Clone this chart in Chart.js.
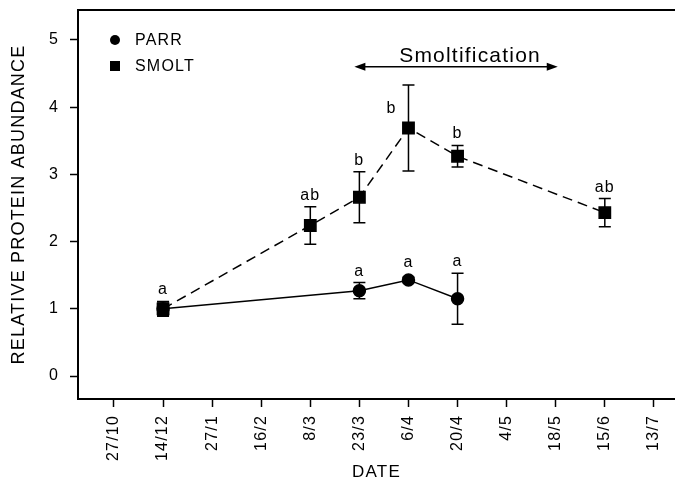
<!DOCTYPE html>
<html>
<head>
<meta charset="utf-8">
<title>Relative protein abundance</title>
<script src="https://cdn.jsdelivr.net/npm/chart.js@4.4.0/dist/chart.umd.min.js"></script>
<style>
  body { margin: 0; background: #fff; }
  #grafico { display: block; }
</style>
</head>
<body>
<canvas id="grafico" width="675" height="483"></canvas>
<script>
// fechas de muestreo (eje X, espaciadas igual)
const fechas = ['27/10', '14/12', '27/1', '16/2', '8/3', '23/3', '6/4', '20/4', '4/5', '18/5', '15/6', '13/7'];
const marcasY = [0, 1, 2, 3, 4, 5];

const parrFechas = ['14/12', '23/3', '6/4', '20/4'];
const parrMedia = [1.0, 1.27, 1.43, 1.15];
const parrError = [0.1, 0.12, 0.04, 0.38];
const parrLetras = ['', 'a', 'a', 'a'];

const smoltFechas = ['14/12', '8/3', '23/3', '6/4', '20/4', '15/6'];
const smoltMedia = [1.0, 2.24, 2.66, 3.69, 3.27, 2.43];
const smoltError = [0.11, 0.28, 0.38, 0.64, 0.16, 0.21];
const smoltLetras = ['a', 'ab', 'b', 'b', 'b', 'ab'];

const periodoSmolt = ['23/3', '18/5'];

document.addEventListener('DOMContentLoaded', function() {
    inicializarGrafica();
});

function puntos(fs, valores) {
    return fs.map((f, i) => ({ x: fechas.indexOf(f), y: valores[i] }));
}

// barras de error, letras, flecha y leyenda
const extras = {
    id: 'extras',
    beforeDraw(chart) {
        chart.ctx.letterSpacing = '1.2px';
    },
    beforeDatasetsDraw(chart) {
        const ctx = chart.ctx;
        const xs = chart.scales.x, ys = chart.scales.y;
        ctx.save();
        ctx.strokeStyle = '#000';
        ctx.lineWidth = 1.5;
        chart.data.datasets.forEach(ds => {
            ds.data.forEach((p, i) => {
                const e = ds.errores[i];
                const x = xs.getPixelForValue(p.x);
                const y1 = ys.getPixelForValue(p.y + e);
                const y2 = ys.getPixelForValue(p.y - e);
                ctx.beginPath();
                ctx.moveTo(x, y1); ctx.lineTo(x, y2);
                ctx.moveTo(x - 6, y1); ctx.lineTo(x + 6, y1);
                ctx.moveTo(x - 6, y2); ctx.lineTo(x + 6, y2);
                ctx.stroke();
            });
        });
        ctx.restore();
    },
    afterDatasetsDraw(chart) {
        const ctx = chart.ctx;
        const xs = chart.scales.x, ys = chart.scales.y;
        const area = chart.chartArea;
        ctx.save();
        ctx.fillStyle = '#000';
        ctx.strokeStyle = '#000';

        // linea superior del marco
        ctx.lineWidth = 2;
        ctx.beginPath();
        ctx.moveTo(area.left, area.top);
        ctx.lineTo(area.right, area.top);
        ctx.stroke();

        // flecha de smoltificacion
        const yFlecha = ys.getPixelForValue(4.6);
        const xa = xs.getPixelForValue(fechas.indexOf(periodoSmolt[0])) - 5;
        const xb = xs.getPixelForValue(fechas.indexOf(periodoSmolt[1])) + 2;
        ctx.lineWidth = 1.5;
        ctx.beginPath();
        ctx.moveTo(xa + 6, yFlecha); ctx.lineTo(xb - 6, yFlecha);
        ctx.stroke();
        ctx.beginPath();
        ctx.moveTo(xa, yFlecha); ctx.lineTo(xa + 11, yFlecha - 4); ctx.lineTo(xa + 11, yFlecha + 4);
        ctx.closePath(); ctx.fill();
        ctx.beginPath();
        ctx.moveTo(xb, yFlecha); ctx.lineTo(xb - 11, yFlecha - 4); ctx.lineTo(xb - 11, yFlecha + 4);
        ctx.closePath(); ctx.fill();
        ctx.font = '21px "Liberation Sans", Arial, sans-serif';
        ctx.textAlign = 'center';
        ctx.textBaseline = 'alphabetic';
        ctx.fillText('Smoltification', (xa + xb) / 2 + 14, yFlecha - 5);

        // letras de significancia
        ctx.font = '16px "Liberation Sans", Arial, sans-serif';
        chart.data.datasets.forEach(ds => {
            ds.data.forEach((p, i) => {
                const letra = ds.letras[i];
                if (!letra) return;
                const x = xs.getPixelForValue(p.x);
                const yTop = ys.getPixelForValue(p.y + ds.errores[i]);
                if (yTop < yFlecha + 25) {
                    ctx.fillText(letra, x - 17, ys.getPixelForValue(p.y) - 15);
                } else {
                    ctx.fillText(letra, x, Math.min(yTop, ys.getPixelForValue(p.y) - 6) - 7);
                }
            });
        });

        // leyenda
        const lx = area.left + 37;
        ctx.textAlign = 'left';
        ctx.textBaseline = 'middle';
        chart.data.datasets.forEach((ds, i) => {
            const ly = area.top + 30 + i * 26;
            ctx.beginPath();
            if (ds.pointStyle === 'circle') {
                ctx.arc(lx, ly, 5, 0, Math.PI * 2);
            } else {
                ctx.rect(lx - 5, ly - 5, 10, 10);
            }
            ctx.fill();
            ctx.fillText(ds.label, lx + 20, ly + 1);
        });
        ctx.restore();
    }
};

function inicializarGrafica() {
    Chart.defaults.font.family = '"Liberation Sans", Arial, sans-serif';
    Chart.defaults.font.size = 16;
    Chart.defaults.color = '#000';

    const ctx = document.getElementById('grafico').getContext('2d');

    new Chart(ctx, {
        type: 'scatter',
        data: {
            datasets: [{
                label: 'PARR',
                data: puntos(parrFechas, parrMedia),
                errores: parrError,
                letras: parrLetras,
                showLine: true,
                borderColor: '#000',
                borderWidth: 1.5,
                pointStyle: 'circle',
                pointRadius: 6,
                pointBackgroundColor: '#000',
                pointBorderColor: '#000',
                order: 1
            }, {
                label: 'SMOLT',
                data: puntos(smoltFechas, smoltMedia),
                errores: smoltError,
                letras: smoltLetras,
                showLine: true,
                borderColor: '#000',
                borderWidth: 1.5,
                borderDash: [10, 6],
                pointStyle: 'rect',
                pointRadius: 8,
                pointBackgroundColor: '#000',
                pointBorderColor: '#000',
                order: 0
            }]
        },
        options: {
            responsive: false,
            animation: false,
            layout: { autoPadding: false, padding: { top: 10, right: 0, left: 0, bottom: 0 } },
            plugins: {
                legend: { display: false },
                tooltip: { enabled: false }
            },
            scales: {
                x: {
                    type: 'linear',
                    min: -0.733,
                    max: 11.43,
                    afterBuildTicks: axis => { axis.ticks = fechas.map((f, i) => ({ value: i })); },
                    afterFit: scale => {
                        scale.height = 84;
                        scale.paddingLeft = 0;
                        scale.paddingRight = 0;
                    },
                    ticks: {
                        callback: v => fechas[v],
                        minRotation: 90,
                        maxRotation: 90,
                        autoSkip: false,
                        padding: 8
                    },
                    grid: { drawOnChartArea: false, tickLength: 8, tickWidth: 1.5, color: '#000' },
                    border: { color: '#000', width: 2 },
                    title: { display: true, text: 'DATE', font: { size: 17 }, padding: { top: 0, bottom: 0 } }
                },
                y: {
                    min: -0.342,
                    max: 5.446,
                    afterBuildTicks: axis => { axis.ticks = marcasY.map(v => ({ value: v })); },
                    afterFit: scale => {
                        scale.width = 78;
                        scale.paddingTop = 0;
                        scale.paddingBottom = 0;
                    },
                    ticks: { padding: 11 },
                    grid: { drawOnChartArea: false, tickLength: 8, tickWidth: 1.5, color: '#000' },
                    border: { color: '#000', width: 2 },
                    title: { display: true, text: 'RELATIVE PROTEIN ABUNDANCE', font: { size: 18 }, padding: { top: 8, bottom: 0 } }
                }
            }
        },
        plugins: [extras]
    });
}
</script>
</body>
</html>
